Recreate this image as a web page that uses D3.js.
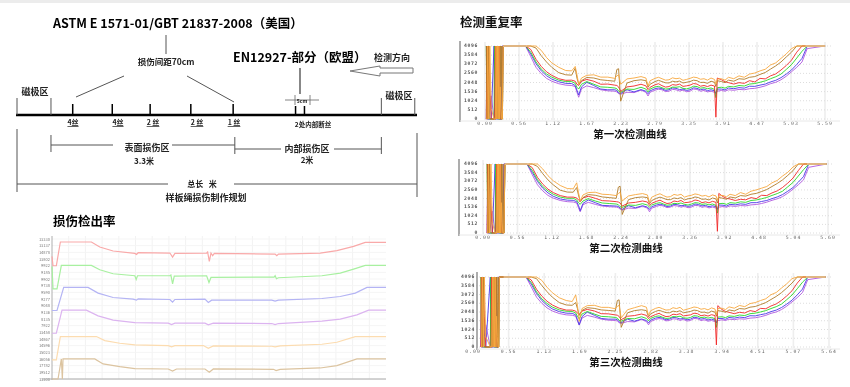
<!DOCTYPE html>
<html>
<head>
<meta charset="utf-8">
<script src="https://cdn.jsdelivr.net/npm/d3@7"></script>
<style>
html, body { margin: 0; padding: 0; background: #fff; overflow: hidden; }
svg { display: block; font-family: "Noto Sans CJK SC", "DejaVu Sans", sans-serif; }
#page { filter: blur(0.45px); }
</style>
</head>
<body>
<div id="chart"></div>
<script>
// rope layout, metres along the sample rope
const ropeLength = 7.18;
const magnetEnds = [0, 0.61, 6.54, 7.14];
const surfaceDefects = [1.0, 1.71, 2.39, 3.12, 3.88];
const surfaceLabels = ["4丝", "4丝", "2 丝", "2 丝", "1 丝"];
const internalDefects = [5.0, 5.16];
const zoneEdges = [0.61, 3.91, 6.54];

// 损伤检出率: sample position and amplitude, one pair per channel
const detectNames = ["13330","13137","14878","13802","9922","9185","9902","9738","9590","9277","9048","9136","8135","7922","13458","14867","14596","15023","16056","17782","19512","13300"];
const detectRedX = [0,3,13,25,118,143,183,248,253,258,353,361,368,463,466,471,476,481,486,668,673,678,803,853,903,938,1000];
const detectRedY = [367,339,339,410,410,395,383,376,373,378,377,365,376,377,380,352,377,369,376,374,369,374,377,384,397,409,409];
const detectGreenX = [0,3,15,28,118,143,183,248,252,256,353,356,361,366,463,470,476,665,668,672,678,808,863,903,938,1000];
const detectGreenY = [337,270,270,340,340,327,315,309,298,309,309,311,285,308,309,289,304,305,309,300,303,309,317,329,340,340];
const detectBlueX = [0,15,35,108,138,183,243,253,258,353,361,368,458,468,478,658,668,678,808,863,908,943,1000];
const detectBlueY = [205,205,274,274,257,244,239,236,240,238,230,238,239,229,236,236,233,236,241,247,257,274,274];
const detectPurpleX = [0,13,30,103,138,183,248,348,358,368,458,468,483,658,668,678,808,863,913,948,1000];
const detectPurpleY = [137,137,206,206,189,176,169,167,163,167,167,162,167,166,163,166,173,179,192,206,206];
const detectOrangeX = [0,13,25,133,158,203,248,348,358,368,453,468,483,658,668,683,808,853,908,1000];
const detectOrangeY = [57,57,127,127,115,107,102,100,96,100,100,92,99,98,96,99,104,110,127,127];
const detectTanX = [0,8,18,28,31,33,128,153,203,248,348,361,373,458,471,483,663,671,683,803,853,913,1000];
const detectTanY = [0,0,0,60,0,60,60,45,37,31,30,24,30,30,20,30,29,25,29,33,40,60,60];

// 检测重复率: sample numbers shared by the three runs
const sampleNo = [
  130,145,160,175,190,205,225,245,262,272,
  277,282,290,305,325,345,365,385,391,396,
  402,420,440,460,474,480,486,500,510,520,
  530,540,550,560,570,580,590,600,610,620,
  630,640,650,660,670,674,678,690,700,710,
  725,740,755,770,785,800,815,830,845,860,
  875,890,905,920,935,986];
const amplitudeTicks = [4096,3584,3072,2560,2048,1536,1024,512,0];
const saturatedSpans = [[66,135],[930,986]];

const firstOrange = [
  4096,4096,4096,3850,3450,3150,2900,2720,2700,2950,
  2500,1950,2300,2450,2480,2350,2350,2280,2420,2480,
  1950,2250,2300,2380,2300,1850,2150,2280,2340,2260,
  2180,2200,2310,2260,2290,2170,2220,2280,2350,2320,
  2230,2260,2180,2300,2220,1960,2240,2260,2180,2340,
  2260,2420,2340,2520,2580,2700,2790,3030,3150,3400,
  3650,3950,4096,4096,4096,4096];
const firstBrown = [
  4096,4096,3980,3550,3200,2900,2600,2480,2460,2850,
  2300,1950,2150,2330,2300,2200,2160,2120,2780,2820,
  1000,2020,2150,2200,2150,1780,1950,2100,2170,2100,
  2030,2020,2120,2080,2130,2020,2060,2100,2180,2150,
  2050,2060,2000,2120,2060,1820,2150,2100,2040,2180,
  2120,2260,2230,2340,2380,2500,2610,2800,2980,3200,
  3480,3750,4096,4096,4096,4096];
const firstRed = [
  4096,3900,3350,2950,2650,2450,2260,2170,2180,2120,
  1950,1880,2120,2220,2120,1950,1960,1900,1880,1800,
  1550,1800,1850,1950,1860,1650,1780,1920,1980,1870,
  1790,1820,1930,1900,1960,1830,1860,1900,1990,1960,
  1840,1880,1820,1900,1850,100,2300,2200,2090,2040,
  1960,2040,2000,2150,2080,2280,2250,2420,2530,2750,
  3000,3300,3750,4096,4096,4096];
const firstGreen = [
  4096,3750,3200,2800,2530,2350,2180,2100,2100,2000,
  1780,1680,1950,2100,1950,1800,1780,1740,1700,1560,
  1500,1680,1660,1780,1680,1520,1680,1800,1830,1750,
  1680,1700,1790,1780,1810,1720,1690,1740,1840,1820,
  1730,1760,1700,1740,1660,1200,1760,1780,1730,1830,
  1800,1880,1850,1960,1990,2060,2140,2260,2370,2520,
  2780,3050,3420,3800,4096,4096];
const firstBlue = [
  4096,3650,3100,2700,2430,2240,2090,2000,1990,1880,
  1620,1350,1800,2060,1880,1680,1640,1640,1600,1460,
  1430,1640,1520,1650,1560,1420,1580,1700,1740,1700,
  1600,1640,1740,1720,1650,1680,1600,1640,1750,1720,
  1640,1680,1590,1640,1580,1420,1680,1680,1630,1740,
  1700,1760,1730,1840,1830,1900,1960,2080,2170,2320,
  2520,2750,3060,3400,4096,4096];
const firstPurple = [
  4096,3500,2900,2550,2280,2120,1980,1900,1880,1820,
  1500,1220,1700,1860,1760,1640,1580,1560,1520,1420,
  1390,1500,1480,1620,1500,1290,1500,1620,1670,1640,
  1540,1560,1660,1640,1570,1620,1530,1560,1680,1660,
  1560,1600,1520,1560,1500,1480,1560,1600,1560,1640,
  1610,1660,1640,1700,1720,1780,1860,1980,2060,2200,
  2400,2650,2900,3200,3950,4096];

const secondOrange = [
  4096,4096,4096,3800,3400,3100,2820,2640,2620,2980,
  2420,1900,2260,2400,2420,2300,2280,2220,2340,2420,
  1900,2200,2280,2340,2260,1820,2120,2260,2330,2220,
  2130,2160,2290,2240,2300,2130,2200,2240,2320,2280,
  2190,2230,2140,2260,2200,1940,2200,2230,2150,2300,
  2220,2400,2300,2480,2560,2660,2760,2980,3120,3380,
  3600,3920,4096,4096,4096,4096];
const secondBrown = [
  4096,4096,3950,3520,3150,2860,2540,2430,2420,2700,
  2260,1880,2100,2280,2240,2140,2100,2060,2720,2780,
  1100,1980,2100,2140,2100,1740,1920,2060,2130,2060,
  1980,1980,2080,2040,2100,1960,2030,2060,2140,2100,
  2000,2020,1960,2080,2020,1780,2110,2060,2000,2140,
  2080,2220,2190,2300,2350,2460,2580,2760,2940,3150,
  3420,3700,4096,4096,4096,4096];
const secondRed = [
  4096,3880,3300,2900,2600,2400,2220,2130,2130,2080,
  1960,1860,2080,2180,2060,1920,1900,1860,1840,1780,
  1600,1780,1820,1900,1840,1640,1760,1880,1950,1840,
  1750,1780,1900,1860,1930,1800,1820,1860,1960,1920,
  1800,1850,1790,1880,1820,100,2350,2160,2060,2020,
  1930,2000,1970,2100,2040,2240,2220,2380,2500,2700,
  2960,3260,3700,4096,4096,4096];
const secondGreen = [
  4096,3720,3160,2760,2500,2300,2130,2060,2060,1960,
  1800,1700,1900,2040,1900,1780,1750,1720,1680,1560,
  1520,1660,1640,1740,1660,1540,1660,1760,1800,1720,
  1650,1680,1760,1740,1780,1700,1660,1720,1800,1780,
  1700,1730,1670,1720,1640,1180,1740,1760,1700,1800,
  1770,1850,1820,1930,1960,2030,2110,2230,2340,2480,
  2740,3000,3380,3760,4096,4096];
const secondBlue = [
  4096,3600,3060,2660,2380,2180,2020,1950,1940,1860,
  1640,1320,1760,1960,1800,1640,1620,1600,1580,1480,
  1400,1620,1500,1620,1540,1400,1560,1660,1710,1660,
  1570,1600,1700,1680,1620,1640,1580,1620,1720,1690,
  1610,1640,1560,1620,1560,1400,1660,1650,1600,1700,
  1670,1730,1700,1800,1800,1870,1930,2040,2140,2280,
  2480,2700,3010,3350,4096,4096];
const secondPurple = [
  4096,3460,2860,2500,2230,2070,1930,1860,1840,1780,
  1500,1260,1680,1820,1700,1600,1560,1540,1500,1420,
  1360,1480,1460,1580,1480,1260,1470,1580,1640,1600,
  1510,1540,1630,1600,1540,1580,1500,1540,1640,1620,
  1530,1570,1490,1540,1480,1460,1540,1570,1530,1610,
  1580,1630,1610,1670,1690,1750,1830,1940,2030,2160,
  2360,2600,2860,3150,3900,4096];

const thirdOrange = [
  4096,4096,4096,3900,3500,3180,2880,2720,2660,3050,
  2450,1500,2250,2420,2440,2320,2320,2240,2380,2440,
  1700,2180,2300,2420,2330,1850,2120,2260,2320,2240,
  2160,2180,2300,2250,2320,2150,2210,2270,2340,2310,
  2210,2250,2170,2290,2220,1900,2250,2270,2190,2350,
  2270,2430,2360,2540,2600,2720,2820,3060,3190,3450,
  3700,4000,4096,4096,4096,4096];
const thirdBrown = [
  4096,4096,4000,3600,3240,2920,2600,2460,2440,2600,
  2250,1850,2140,2300,2260,2170,2140,2100,2720,2760,
  1150,2000,2130,2180,2130,1760,1940,2080,2150,2080,
  2010,2000,2100,2060,2120,2000,2040,2080,2160,2130,
  2030,2040,1980,2100,2040,1800,2130,2090,2030,2170,
  2110,2250,2220,2330,2370,2480,2600,2780,2960,3180,
  3450,3740,4096,4096,4096,4096];
const thirdRed = [
  4096,3920,3380,2980,2680,2460,2270,2160,2160,2100,
  1980,1900,2100,2200,2110,1950,1940,1880,1860,1790,
  1600,1800,1840,1930,1850,1660,1770,1900,1970,1860,
  1780,1800,1920,1890,1950,1820,1850,1880,1980,1950,
  1830,1870,1810,1890,1840,120,2420,2190,2080,2030,
  1950,2030,1990,2130,2070,2260,2240,2400,2520,2730,
  2990,3290,3740,4096,4096,4096];
const thirdGreen = [
  4096,3780,3230,2820,2550,2340,2170,2090,2080,1990,
  1790,1650,1930,2080,1930,1790,1770,1730,1690,1560,
  1510,1670,1650,1770,1670,1530,1670,1790,1820,1740,
  1670,1690,1780,1770,1800,1710,1680,1730,1830,1810,
  1720,1750,1690,1730,1650,1150,1750,1770,1720,1820,
  1790,1870,1840,1950,1980,2050,2130,2250,2360,2510,
  2770,3040,3410,3790,4096,4096];
const thirdBlue = [
  4096,3680,3130,2720,2440,2230,2070,1980,1970,1880,
  1600,1300,1780,2040,1860,1670,1630,1630,1600,1470,
  1420,1630,1510,1640,1550,1410,1570,1690,1730,1690,
  1590,1630,1730,1710,1640,1670,1590,1630,1740,1710,
  1630,1670,1580,1630,1570,1410,1670,1670,1620,1730,
  1690,1750,1720,1830,1820,1890,1950,2070,2160,2310,
  2510,2740,3050,3390,4096,4096];
const thirdPurple = [
  4096,3520,2920,2560,2290,2110,1960,1880,1860,1800,
  1520,1280,1690,1850,1750,1630,1570,1550,1520,1420,
  1380,1490,1470,1610,1490,1300,1490,1610,1660,1630,
  1530,1550,1650,1630,1560,1610,1520,1550,1670,1650,
  1550,1590,1510,1550,1490,1470,1550,1590,1550,1630,
  1600,1650,1630,1690,1710,1770,1850,1970,2050,2190,
  2390,2640,2890,3190,3940,4096];

// coil-end bursts at the head of each run
const burstOrange = [0,0,4096,0,4096,600,0,0,0,4096,0,4096,0,4096,0,1800,600,0,0,4096];
const burstBrown = [4096,0,0,4096,0,0,0,0,0,0,4096,0,4096,0,0,4096,0,4096,0,4096];
const burstRed = [0,4096,0,4096,1800,0,0,0,4096,0,4096,0,4096,0,4096,0,0,0,0,4096];
const burstGreen = [4096,0,4096,0,0,0,0,4096,0,4096,0,4096,0,0,0,0,0,0,0,4096];
const burstBlue = [0,4096,0,0,0,0,4096,0,0,0,0,0,0,0,0,0,0,0,4096,4096];
const burstPurple = [0,0,0,0,600,1300,0,0,0,0,4096,0,0,2900,0,0,0,0,4096,4096];

const firstBurstAt = [18,20,22,25,28,32,40,42,44,46,48,50,52,54,56,58,60,62,64,66];
const secondBurstAt = [16,18,20,23,27,31,39,41,43,45,47,49,51,53,55,57,59,61,64,67];
const thirdBurstAt = [1,3,5,8,11,15,28,30,32,34,36,38,40,42,44,46,48,50,52,54];

const firstTicks = ["0.00","0.56","1.12","1.67","2.23","2.79","3.35","3.91","4.47","5.03","5.59"];
const secondTicks = ["0.00","0.56","1.12","1.68","2.24","2.80","3.36","3.92","4.48","5.04","5.60"];
const thirdTicks = ["0.00","0.56","1.13","1.69","2.25","2.82","3.38","3.94","4.51","5.07","5.64"];

const svg = d3.select("#chart").append("svg").attr("width", 850).attr("height", 387);
const page = svg.append("g").attr("id", "page");

page.append("rect").attr("width", 850).attr("height", 3).attr("fill", "#ececec");

function addText(parent, x, y, str, size, opts = {}) {
    return parent.append("text")
        .attr("x", x).attr("y", y)
        .attr("text-anchor", opts.anchor || "middle")
        .attr("font-size", size)
        .attr("font-weight", opts.weight || 700)
        .attr("fill", opts.fill || "#222")
        .text(str);
}

function addLine(parent, x1, y1, x2, y2, color = "#333", width = 1) {
    parent.append("line")
        .attr("x1", x1).attr("y1", y1).attr("x2", x2).attr("y2", y2)
        .attr("stroke", color).attr("stroke-width", width);
}

function drawRopeDiagram() {
    const g = page.append("g");
    const rope = d3.scaleLinear().domain([0, ropeLength]).range([17, 417]);
    const ropeY = 115;

    addText(g, 53, 28, "ASTM E 1571-01/GBT 21837-2008（美国）", 12.5, { anchor: "start", fill: "#000" });
    addText(g, 233, 62, "EN12927-部分（欧盟）", 12.5, { anchor: "start", fill: "#000" });
    addText(g, 166, 65, "损伤间距70cm", 8.5);
    addText(g, 392, 61, "检测方向", 9);

    addLine(g, 166, 35, 166, 54, "#555");
    addLine(g, 300, 68, 300, 94, "#555", 1.4);
    addLine(g, 124, 76, 76, 97, "#555");
    addLine(g, 187, 76, 234, 102, "#555");

    // direction arrow
    g.append("path")
        .attr("d", "M350,71 L380,66 L380,68 L413,68 L413,73 L380,73 L380,76 Z")
        .attr("fill", "#fff").attr("stroke", "#777");

    addLine(g, 16, ropeY, 417, ropeY, "#000", 2.6);

    magnetEnds.forEach((d) => addLine(g, rope(d), 98, rope(d), ropeY, "#555"));
    addText(g, 35, 95, "磁极区", 9);
    addText(g, 399, 99, "磁极区", 9);

    surfaceDefects.forEach((d, i) => {
        addLine(g, rope(d), 104, rope(d), ropeY, "#000", 1.5);
        const labelX = [73, 118, 153, 197, 234][i];
        addText(g, labelX, 125, surfaceLabels[i], 7).attr("text-decoration", "underline");
    });
    internalDefects.forEach((d) => addLine(g, rope(d), 106, rope(d), ropeY, "#000", 1.5));

    addLine(g, 285, 100, 319, 100, "#666", 0.8);
    addLine(g, 295, 95, 295, 105, "#666", 0.8);
    addLine(g, 310, 95, 310, 105, "#666", 0.8);
    addText(g, 302, 103, "5cm", 5);
    addText(g, 313, 127, "2处内部断丝", 6.5);

    // zone brackets
    addLine(g, rope(zoneEdges[0]), 135, rope(zoneEdges[0]), 152, "#555");
    addLine(g, rope(zoneEdges[1]), 137, rope(zoneEdges[1]), 154, "#555");
    addLine(g, rope(zoneEdges[2]), 137, rope(zoneEdges[2]), 154, "#555");
    addLine(g, rope(zoneEdges[0]), 145, 113, 145, "#555");
    addLine(g, 172, 145, rope(zoneEdges[1]), 145, "#555");
    addLine(g, rope(zoneEdges[1]), 149, 281, 149, "#555");
    addLine(g, 334, 149, rope(zoneEdges[2]), 149, "#555");
    addText(g, 147, 151, "表面损伤区", 9);
    addText(g, 307, 152, "内部损伤区", 9);
    addText(g, 144, 164, "3.3米", 8);
    addText(g, 307, 163, "2米", 8);

    addLine(g, 17, 129, 17, 192, "#555");
    addLine(g, 417, 133, 417, 197, "#555");
    addLine(g, 17, 184, 168, 184, "#555");
    addLine(g, 234, 184, 417, 184, "#555");
    addText(g, 202, 187, "总长\u00a0\u00a0\u00a0米", 8);
    addText(g, 206, 201, "样板绳损伤制作规划", 9);
}

function drawDetectChart() {
    const g = page.append("g");
    const x = d3.scaleLinear().domain([0, 1000]).range([52, 386]);
    const y = d3.scaleLinear().domain([0, 422]).range([379, 238]);
    const rows = d3.scalePoint().domain(detectNames).range([239, 379]);

    addText(g, 53, 226, "损伤检出率", 12.5, { anchor: "start", fill: "#000" });

    g.selectAll(".v-grid").data(d3.range(50, 1000, 50)).join("line")
        .attr("x1", (d) => x(d)).attr("x2", (d) => x(d))
        .attr("y1", 236).attr("y2", 379)
        .attr("stroke", "#f2f2f2");
    g.selectAll(".h-grid").data(detectNames).join("line")
        .attr("x1", 52).attr("x2", 386)
        .attr("y1", (d) => rows(d)).attr("y2", (d) => rows(d))
        .attr("stroke", "#f5f5f5");
    g.selectAll(".row-label").data(detectNames).join("text")
        .attr("x", 50).attr("y", (d) => rows(d) + 1.5)
        .attr("text-anchor", "end").attr("font-size", 4).attr("fill", "#777")
        .text((d) => d);

    addLine(g, 52, 236, 52, 380, "#999", 0.8);
    addLine(g, 42, 379, 386, 379, "#aaa", 1);

    const channels = [
        { xs: detectTanX, ys: detectTanY, color: "#dcc4a0" },
        { xs: detectOrangeX, ys: detectOrangeY, color: "#fcdcb0" },
        { xs: detectPurpleX, ys: detectPurpleY, color: "#dcb4f0" },
        { xs: detectBlueX, ys: detectBlueY, color: "#b4b4f4" },
        { xs: detectGreenX, ys: detectGreenY, color: "#a8f0a0" },
        { xs: detectRedX, ys: detectRedY, color: "#f9a9a9" },
    ];
    const line = d3.line().x((d) => x(d[0])).y((d) => y(d[1]));
    channels.forEach((c) => {
        g.append("path")
            .attr("d", line(d3.zip(c.xs, c.ys)))
            .attr("fill", "none").attr("stroke", c.color).attr("stroke-width", 1.2);
    });
}

function drawRepeatChart(run) {
    const g = page.append("g");
    const x = d3.scaleLinear().domain([0, 1000]).range([480 + run.shift, 830 + run.shift]);
    const y = d3.scaleLinear().domain([0, 4096]).range([run.bottom, run.top]);
    const tick = d3.scalePoint().domain(run.ticks).range([run.tickStart, run.tickEnd]);

    g.selectAll(".v-grid").data(run.ticks).join("line")
        .attr("x1", (d) => tick(d)).attr("x2", (d) => tick(d))
        .attr("y1", run.top - 4).attr("y2", run.bottom + 1)
        .attr("stroke", "#eeeeee").attr("stroke-width", 1.6);
    g.selectAll(".h-grid").data(amplitudeTicks).join("line")
        .attr("x1", run.tickStart).attr("x2", 832)
        .attr("y1", (d) => y(d)).attr("y2", (d) => y(d))
        .attr("stroke", "#dddddd").attr("stroke-dasharray", "1,2");

    g.selectAll(".amp-label").data(amplitudeTicks).join("text")
        .attr("x", run.labelRight).attr("y", (d) => y(d) + 1)
        .attr("text-anchor", "end").attr("font-size", 4.8)
        .attr("font-family", "DejaVu Sans Mono").attr("font-weight", 700)
        .attr("fill", "#555").attr("letter-spacing", 0.6)
        .text((d) => d);
    g.selectAll(".x-label").data(run.ticks).join("text")
        .attr("x", (d) => tick(d)).attr("y", run.bottom + 6)
        .attr("text-anchor", "middle").attr("font-size", 4.8)
        .attr("font-family", "DejaVu Sans Mono").attr("fill", "#666").attr("letter-spacing", 1)
        .text((d) => d);

    addLine(g, run.barX, run.top - 5, run.barX, run.bottom + 3, "#999", 1.6);
    addLine(g, run.barX, run.bottom + 2, 840, run.bottom + 2, "#e8e8e8", 1);

    const line = d3.line().x((d) => x(d[0])).y((d) => y(d[1]));
    const layers = [
        { name: "purple", color: "#b058e0" },
        { name: "blue", color: "#4838e8" },
        { name: "green", color: "#28d828" },
        { name: "red", color: "#f02828" },
        { name: "brown", color: "#b07a28" },
        { name: "orange", color: "#f7a840" },
    ];
    layers.forEach((layer) => {
        const points = d3.zip(run.burstAt, run.burst[layer.name])
            .concat(d3.zip(sampleNo, run.curves[layer.name]));
        g.append("path")
            .attr("d", line(points))
            .attr("fill", "none").attr("stroke", layer.color).attr("stroke-width", 0.9);
    });

    // where every channel is pinned at full scale the picture shows one pale line
    saturatedSpans.forEach((span) => {
        g.append("path")
            .attr("d", line(span.map((s) => [s, 4096])))
            .attr("fill", "none").attr("stroke", "#ecd2ae").attr("stroke-width", 1.2);
    });

    addText(g, run.captionX, run.captionY, run.caption, 10.5, { fill: "#111" });
}

drawRopeDiagram();
drawDetectChart();

addText(page, 460, 27, "检测重复率", 12.5, { anchor: "start", fill: "#111" });

const burstSet = { orange: burstOrange, brown: burstBrown, red: burstRed, green: burstGreen, blue: burstBlue, purple: burstPurple };

drawRepeatChart({
    top: 46, bottom: 119, shift: 0, barX: 460, labelRight: 478, tickStart: 485, tickEnd: 825,
    ticks: firstTicks, burstAt: firstBurstAt, burst: burstSet,
    curves: { orange: firstOrange, brown: firstBrown, red: firstRed, green: firstGreen, blue: firstBlue, purple: firstPurple },
    caption: "第一次检测曲线", captionX: 630, captionY: 138,
});
drawRepeatChart({
    top: 164, bottom: 233, shift: 1.5, barX: 459, labelRight: 478, tickStart: 483, tickEnd: 828,
    ticks: secondTicks, burstAt: secondBurstAt, burst: burstSet,
    curves: { orange: secondOrange, brown: secondBrown, red: secondRed, green: secondGreen, blue: secondBlue, purple: secondPurple },
    caption: "第二次检测曲线", captionX: 626, captionY: 252,
});
drawRepeatChart({
    top: 277, bottom: 347, shift: 0.5, barX: 477, labelRight: 475, tickStart: 473, tickEnd: 829,
    ticks: thirdTicks, burstAt: thirdBurstAt, burst: burstSet,
    curves: { orange: thirdOrange, brown: thirdBrown, red: thirdRed, green: thirdGreen, blue: thirdBlue, purple: thirdPurple },
    caption: "第三次检测曲线", captionX: 626, captionY: 366,
});
</script>
</body>
</html>
